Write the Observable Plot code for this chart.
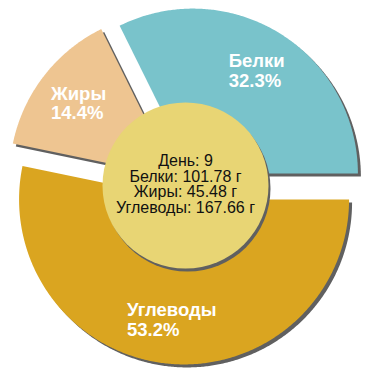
<!DOCTYPE html>
<html><head><meta charset="utf-8">
<script src="https://cdn.jsdelivr.net/npm/d3@7"></script>
<script src="https://cdn.jsdelivr.net/npm/@observablehq/plot@0.6"></script>
<style>body{margin:0;background:#fff}svg{display:block}</style>
</head><body><div id="chart"></div>
<script>
// data
const names = ["Белки", "Жиры", "Углеводы"];
const grams = [101.78, 45.48, 167.66];
const percents = [32.3, 14.4, 53.2];
const colors = ["#79C3CB", "#EEC591", "#DAA520"];
const day = 9;
const unit = "г";
const dayLabel = "День";

// geometry
const W = 370, H = 370, cx = 185, cy = 185, R = 165, explode = 14, holeR = 83, labelR = 121;
const total = d3.sum(grams);
let acc = 0;
const slices = names.map((n, i) => {
  const a0 = acc / total * 2 * Math.PI; acc += grams[i];
  const a1 = acc / total * 2 * Math.PI;
  const am = (a0 + a1) / 2;
  return {name: n, i, a0, a1, am, ox: cx + explode * Math.cos(am), oy: cy - explode * Math.sin(am)};
});
const pts = slices.flatMap(s => {
  const n = Math.ceil((s.a1 - s.a0) / (Math.PI / 360));
  const arr = [{name: s.name, x: s.ox, y: s.oy}];
  for (let k = 0; k <= n; k++) {
    const a = s.a0 + (s.a1 - s.a0) * k / n;
    arr.push({name: s.name, x: s.ox + R * Math.cos(a), y: s.oy - R * Math.sin(a)});
  }
  return arr;
});

const lfs = 18.5;
const ctx = document.createElement("canvas").getContext("2d");
ctx.font = `bold ${lfs}px "Liberation Sans"`;
const labels = slices.map(s => {
  const lines = [s.name, percents[s.i].toFixed(1) + "%"];
  const w = d3.max(lines, l => ctx.measureText(l).width);
  return {text: lines.join("\n"), x: s.ox + labelR * Math.cos(s.am) - w / 2, y: s.oy - labelR * Math.sin(s.am)};
});
const centerText = [`${dayLabel}: ${day}`, ...names.map((n, i) => `${n}: ${grams[i].toFixed(2)} ${unit}`)].join("\n");

const chart = Plot.plot({
  width: W, height: H, margin: 0,
  style: {fontFamily: "'Liberation Sans', Arial, sans-serif", background: "#fff"},
  x: {domain: [0, W], range: [0, W], axis: null},
  y: {domain: [0, H], range: [0, H], axis: null},
  color: {domain: names, range: colors},
  marks: [
    Plot.line(pts, {x: "x", y: "y", z: "name", fill: "#606060", stroke: null, dx: 3, dy: 3}),
    Plot.line(pts, {x: "x", y: "y", z: "name", fill: "name", stroke: null}),
    Plot.dot([{x: cx, y: cy}], {x: "x", y: "y", r: holeR, fill: "#606060", stroke: null, dx: 2, dy: 3}),
    Plot.dot([{x: cx, y: cy}], {x: "x", y: "y", r: holeR, fill: "#E8D574", stroke: null}),
    Plot.text(labels, {x: "x", y: "y", text: "text", textAnchor: "start", fill: "white", fontWeight: "bold", fontSize: lfs, lineHeight: 19.5 / lfs}),
    Plot.text([{x: cx, y: cy - 1, t: centerText}], {x: "x", y: "y", text: "t", fill: "#111", fontSize: 16, lineHeight: 15.5 / 16})
  ]
});
document.getElementById("chart").append(chart);
</script>
</body></html>
